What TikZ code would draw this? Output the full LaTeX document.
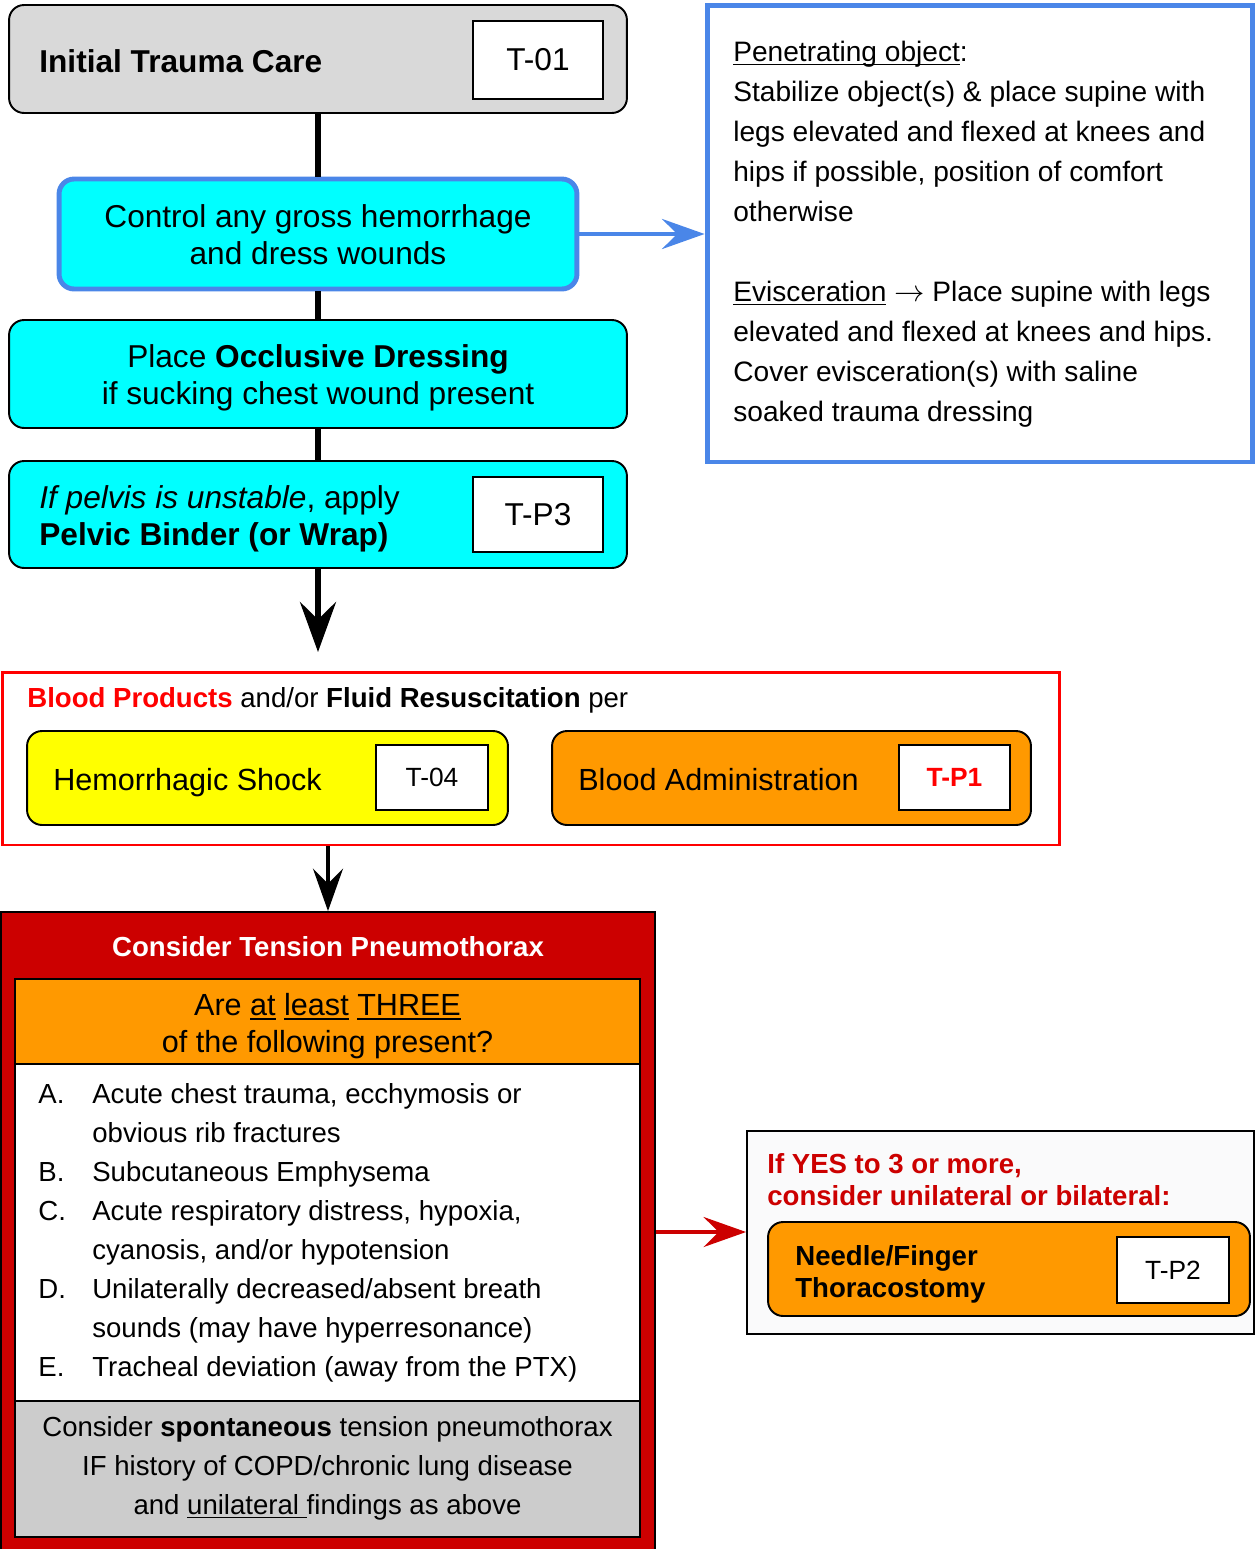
\documentclass[tikz,border=0pt]{standalone}
\usepackage{fontspec}
\setmainfont{Liberation Sans}
\usetikzlibrary{arrows.meta}
\definecolor{grayA}{HTML}{D9D9D9}
\definecolor{grayB}{HTML}{CCCCCC}
\definecolor{cyanbox}{HTML}{00FFFF}
\definecolor{bluebox}{HTML}{4A86E8}
\definecolor{yellowbox}{HTML}{FFFF00}
\definecolor{orangebox}{HTML}{FF9900}
\definecolor{redline}{HTML}{FF0000}
\definecolor{darkred}{HTML}{CC0000}
\definecolor{paleA}{HTML}{FAFAFB}
\newcommand\ulword[1]{\leavevmode\setbox0\hbox{#1}\rlap{\rule[-2.3pt]{\wd0}{0.9pt}}\box0\relax}

\begin{document}
\begin{tikzpicture}[x = 0.02cm, y = -0.02cm,
                    every node/.style = {inner sep = 0pt},
                    rbox/.style = {rectangle, rounded corners = 0.3cm, draw, line width = 1.1pt},
                    sbox/.style = {rectangle, draw, line width = 1.1pt},
                    code/.style = {rectangle, draw, fill = white, line width = 1.1pt},
                    big/.style = {font = \fontsize{18pt}{21pt}\selectfont},
                    mid/.style = {font = \fontsize{17.4pt}{21pt}\selectfont},
                    small/.style = {font = \fontsize{15.7pt}{22.2pt}\selectfont},
                    note/.style = {font = \fontsize{16pt}{22.76pt}\selectfont},
                    tight/.style = {font = \fontsize{15.7pt}{18.2pt}\selectfont\bfseries},
                    flow/.style = {line width = 3.4pt},
                    bigtip/.style = {-{Stealth[length = 1cm, width = 0.72cm, inset = 0.35cm]}},
                    tip/.style = {-{Stealth[length = 0.85cm, width = 0.6cm, inset = 0.3cm]}}]
    \useasboundingbox (0, 0) rectangle (1256, 1549);
    % top column
    \node [rbox, fill = grayA, minimum width = 12.36cm, minimum height = 2.16cm] (init) at (318, 59){};
    \node [code, minimum width = 2.6cm, minimum height = 1.56cm, big] (t01) at (538, 60){T-01};
    \node [big, anchor = west] (inittxt) at (39, 61){\bfseries Initial Trauma Care};
    \node [rbox, fill = cyanbox, draw = bluebox, line width = 2.8pt, minimum width = 10.36cm, minimum height = 2.2cm] (ctrl) at (318, 234){};
    \node [big, align = center] (ctrltxt) at (318, 235){Control any gross hemorrhage\\and dress wounds};
    \node [rbox, fill = cyanbox, minimum width = 12.36cm, minimum height = 2.16cm] (occl) at (318, 374){};
    \node [big, align = center] (occltxt) at (318, 378){Place \textbf{Occlusive Dressing}\\if sucking chest wound present};
    \node [rbox, fill = cyanbox, minimum width = 12.36cm, minimum height = 2.14cm] (pelv) at (318, 514.5){};
    \node [code, minimum width = 2.6cm, minimum height = 1.5cm, big] (tp3) at (538, 514.5){T-P3};
    \node [big, align = left, anchor = west] (pelvtxt) at (39, 519){\textit{If pelvis is unstable}, apply\\\textbf{Pelvic Binder (or Wrap)}};
    \coordinate (drop) at (318, 652);
    \draw [flow] (init) -- (ctrl);
    \draw [flow] (ctrl) -- (occl);
    \draw [flow] (occl) -- (pelv);
    \draw [flow, bigtip] (pelv) -- (drop);

    % side note
    \node [sbox, draw = bluebox, line width = 2.8pt, fill = white, minimum width = 10.92cm, minimum height = 9.14cm] (penet) at (980, 233.5){};
    \node [note, align = left, anchor = north west] (penettxt) at (733, 40.5){\ulword{Penetrating object}:\\
        Stabilize object(s) \& place supine with\\
        legs elevated and flexed at knees and\\
        hips if possible, position of comfort\\
        otherwise\\[22.76pt]
        \ulword{Evisceration} $\rightarrow$ Place supine with legs\\
        elevated and flexed at knees and hips.\\
        Cover evisceration(s) with saline\\
        soaked trauma dressing};
    \draw [line width = 2.8pt, draw = bluebox, tip] (ctrl.east) -- (ctrl.east -| penet.west);

    % blood products
    \node [sbox, draw = redline, line width = 1.7pt, minimum width = 21.16cm, minimum height = 3.46cm] (blood) at (531, 758.5){};
    \node [small, anchor = west] (bloodtxt) at (27, 700){\textcolor{redline}{\bfseries Blood Products} and/or \textbf{Fluid Resuscitation} per};
    \node [rbox, fill = yellowbox, minimum width = 9.62cm, minimum height = 1.88cm] (shock) at (267.5, 778){};
    \node [code, minimum width = 2.24cm, minimum height = 1.3cm, font = \fontsize{15pt}{18pt}\selectfont] (t04) at (432, 777.5){T-04};
    \node [mid, anchor = base west] (shocktxt) at (53, 790){Hemorrhagic Shock};
    \node [rbox, fill = orangebox, minimum width = 9.58cm, minimum height = 1.88cm] (admin) at (791.5, 778){};
    \node [code, minimum width = 2.22cm, minimum height = 1.3cm, text = redline,
           font = \fontsize{15pt}{18pt}\selectfont\bfseries] (tp1) at (954.5, 777.5){T-P1};
    \node [mid, anchor = base west] (admintxt) at (578, 790){Blood Administration};

    % tension pneumothorax
    \node [sbox, fill = darkred, minimum width = 13.08cm, minimum height = 12.8cm] (pneumo) at (328, 1232){};
    \draw [line width = 2.3pt, tip] (blood.south -| pneumo.north) -- (pneumo.north);
    \node [small, text = white] (pneumotxt) at (328, 947){\bfseries Consider Tension Pneumothorax};
    \node [sbox, fill = orangebox, minimum width = 12.5cm, minimum height = 1.7cm] (quest) at (327.5, 1021.5){};
    \node [mid, align = center] (questtxt) at (327.5, 1026){Are \ulword{at} \ulword{least} \ulword{THREE}\\of the following present?};
    \node [sbox, fill = white, minimum width = 12.5cm, minimum height = 6.74cm] (signs) at (327.5, 1232.5){};
    \node [small, anchor = north west] (signstxt) at (38, 1076){%
        \begin{tabular}{@{}p{1.08cm}@{}l@{}}
        A. & Acute chest trauma, ecchymosis or\\
           & obvious rib fractures\\
        B. & Subcutaneous Emphysema\\
        C. & Acute respiratory distress, hypoxia,\\
           & cyanosis, and/or hypotension\\
        D. & Unilaterally decreased/absent breath\\
           & sounds (may have hyperresonance)\\
        E. & Tracheal deviation (away from the PTX)
        \end{tabular}};
    \node [sbox, fill = grayB, minimum width = 12.5cm, minimum height = 2.72cm] (spont) at (327.5, 1469){};
    \node [small, align = center] (sponttxt) at (327.5, 1468){Consider \textbf{spontaneous} tension pneumothorax\\
        IF history of COPD/chronic lung disease\\
        and \ulword{unilateral\ }findings as above};

    % needle decompression
    \node [sbox, fill = paleA, minimum width = 10.14cm, minimum height = 4.06cm] (yes) at (1000.5, 1232.5){};
    \node [tight, text = darkred, align = left, anchor = north west] (yestxt) at (767, 1153){If YES to 3 or more,\\consider unilateral or bilateral:};
    \node [rbox, fill = orangebox, minimum width = 9.64cm, minimum height = 1.88cm] (needle) at (1009, 1269){};
    \node [code, minimum width = 2.24cm, minimum height = 1.32cm, font = \fontsize{15pt}{18pt}\selectfont] (tp2) at (1173, 1270){T-P2};
    \node [tight, align = left, anchor = west] (needletxt) at (795, 1274){Needle/Finger\\Thoracostomy};
    \draw [line width = 2.3pt, draw = darkred, tip] (pneumo.east) -- (pneumo.east -| yes.west);
    \end{tikzpicture}
\end{document}
